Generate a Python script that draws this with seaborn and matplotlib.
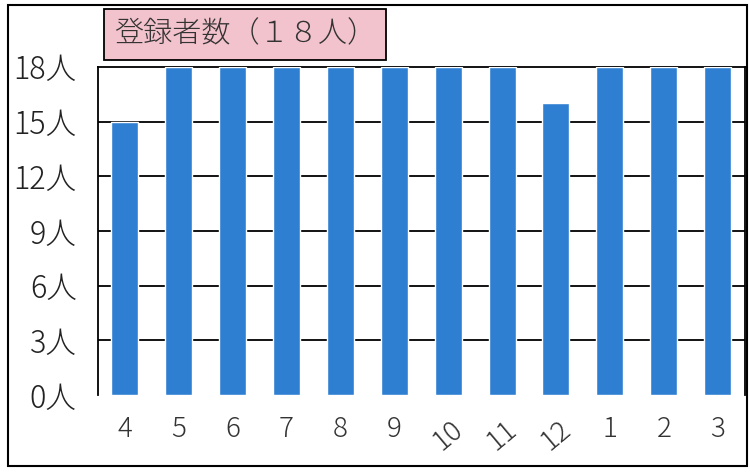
import matplotlib
matplotlib.use("Agg")
import matplotlib.pyplot as plt
import seaborn as sns
import pandas as pd
from matplotlib.patches import Rectangle

months = ["4", "5", "6", "7", "8", "9", "10", "11", "12", "1", "2", "3"]
registered = [15, 18, 18, 18, 18, 18, 18, 18, 16, 18, 18, 18]
yticks = [0, 3, 6, 9, 12, 15, 18]
ytick_labels = [f"{v}人" for v in yticks]
title = "登録者数（１８人）"

sns.set_theme(style="white")
plt.rcParams['font.family'] = ['Noto Sans CJK JP', 'DejaVu Sans']

df = pd.DataFrame({"month": months, "count": registered})

fig = plt.figure(figsize=(7.5, 4.75), dpi=100)
ax = fig.add_axes([0.13, 0.168, 0.863, 0.691])
sns.barplot(data=df, x="month", y="count", color="#2e7fd2", saturation=1,
            width=0.5, ax=ax, zorder=3, order=months)

ax.set_ylim(0, 18)
ax.set_xlim(-0.5, len(months) - 0.5)
ax.set_yticks(yticks)
ax.set_yticklabels(ytick_labels, fontsize=22, color="#222222", fontweight="light")
for v in yticks[1:-1]:
    ax.axhline(v, color="black", lw=1.3, zorder=1)
ax.set_xlabel("")
ax.set_ylabel("")
ax.tick_params(axis="y", length=0, pad=15)
ax.tick_params(axis="x", length=0, pad=14)
xl = ax.set_xticklabels(months, fontsize=20, color="#333333", fontweight="light")
for t in xl:
    if t.get_text() in ("10", "11", "12"):
        t.set_rotation(40)
for side in ["top", "left", "right"]:
    ax.spines[side].set_visible(True)
    ax.spines[side].set_color("black")
    ax.spines[side].set_linewidth(1.3)
ax.spines["bottom"].set_visible(False)

# outer frame
fig.add_artist(Rectangle((0.011, 0.02), 0.985, 0.97, transform=fig.transFigure,
                         fill=False, edgecolor="black", lw=1.5))
# title box
fig.text(0.152, 0.928, title, fontsize=21, color="#333333", va="center", ha="left",
         fontweight="light",
         bbox=dict(boxstyle="square,pad=0.35", facecolor="#f2c2cd", edgecolor="black", lw=1.3))

fig.savefig("out.png", dpi=100)
